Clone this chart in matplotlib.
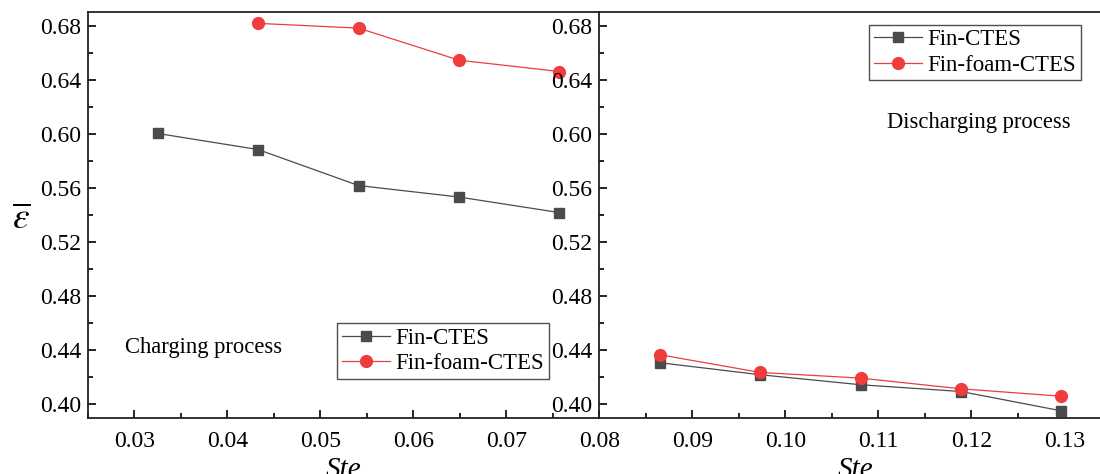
import matplotlib
matplotlib.use('Agg')
import matplotlib.pyplot as plt
from matplotlib.ticker import MultipleLocator

plt.rcParams['font.family'] = ['Liberation Serif', 'DejaVu Serif']
plt.rcParams['mathtext.fontset'] = 'stix'

# charging process
ste_c = [0.0325, 0.0433, 0.0541, 0.0649, 0.0757]
fin_c = [0.6004, 0.5885, 0.5619, 0.5534, 0.5419]
ste_fc = [0.0433, 0.0541, 0.0649, 0.0757]
foam_c = [0.6818, 0.6783, 0.6546, 0.6462]

# discharging process
ste_d = [0.0865, 0.0973, 0.1081, 0.1189, 0.1297]
fin_d = [0.4309, 0.4220, 0.4146, 0.4096, 0.3953]
foam_d = [0.4368, 0.4237, 0.4195, 0.4116, 0.4061]

left_ticks = [0.03, 0.04, 0.05, 0.06, 0.07]
right_ticks = [0.08, 0.09, 0.10, 0.11, 0.12, 0.13]
y_ticks = [0.40, 0.44, 0.48, 0.52, 0.56, 0.60, 0.64, 0.68]

gray = '#4b4b4b'
red = '#f03c3c'

fig = plt.figure(figsize=(11, 4.74), dpi=100)
ax1 = fig.add_axes([0.08, 0.1181, 0.4648, 0.856])
ax2 = fig.add_axes([0.5448, 0.1181, 0.4650, 0.856])

for ax in (ax1, ax2):
    ax.set_ylim(0.39, 0.69)
    ax.set_yticks(y_ticks)
    ax.yaxis.set_major_formatter(plt.FormatStrFormatter('%.2f'))
    ax.yaxis.set_minor_locator(MultipleLocator(0.02))
    ax.xaxis.set_minor_locator(MultipleLocator(0.005))
    ax.tick_params(which='both', direction='in', top=False, right=False,
                   labelsize=17, width=1.2)
    ax.tick_params(axis='x', pad=9)
    ax.tick_params(axis='y', pad=5)
    ax.tick_params(which='major', length=6)
    ax.tick_params(which='minor', length=3.5)
    for s in ax.spines.values():
        s.set_linewidth(1.3)
        s.set_color('#222222')
    ax.spines['right'].set_visible(False)
    ax.set_xlabel('Ste', fontsize=21, style='italic', labelpad=4)

ax1.set_xlim(0.025, 0.08)
ax1.set_xticks(left_ticks)
ax1.xaxis.set_major_formatter(plt.FormatStrFormatter('%.2f'))
ax2.set_xlim(0.08, 0.135)
ax2.set_xticks(right_ticks)
ax2.xaxis.set_major_formatter(plt.FormatStrFormatter('%.2f'))

ax1.plot(ste_c, fin_c, color=gray, lw=0.9, marker='s', ms=7.5, label='Fin-CTES')
ax1.plot(ste_fc, foam_c, color=red, lw=0.9, marker='o', ms=8.5, label='Fin-foam-CTES')
ax2.plot(ste_d, fin_d, color=gray, lw=0.9, marker='s', ms=7.5, label='Fin-CTES')
ax2.plot(ste_d, foam_d, color=red, lw=0.9, marker='o', ms=8.5, label='Fin-foam-CTES')

leg_kw = dict(fontsize=16.5, frameon=True, fancybox=False, edgecolor='#222222',
              handlelength=2.1, borderpad=0.2, labelspacing=0.2,
              handletextpad=0.25, borderaxespad=0)
l1 = ax1.legend(loc='upper left', bbox_to_anchor=(337 / 1100, 1 - 323 / 474),
                bbox_transform=fig.transFigure, **leg_kw)
l2 = ax2.legend(loc='upper left', bbox_to_anchor=(869 / 1100, 1 - 24.5 / 474),
                bbox_transform=fig.transFigure, **leg_kw)
for l in (l1, l2):
    l.get_frame().set_linewidth(1.0)

ax1.text(0.029, 0.4422, 'Charging process', fontsize=16.3, va='center')
ax2.text(0.1109, 0.6087, 'Discharging process', fontsize=16.3, va='center')

ax1.set_ylabel(r'$\overline{\varepsilon}$', fontsize=27, rotation=0, va='center')
ax1.yaxis.set_label_coords(-0.13, 0.49)

fig.savefig('out.png', dpi=100)
